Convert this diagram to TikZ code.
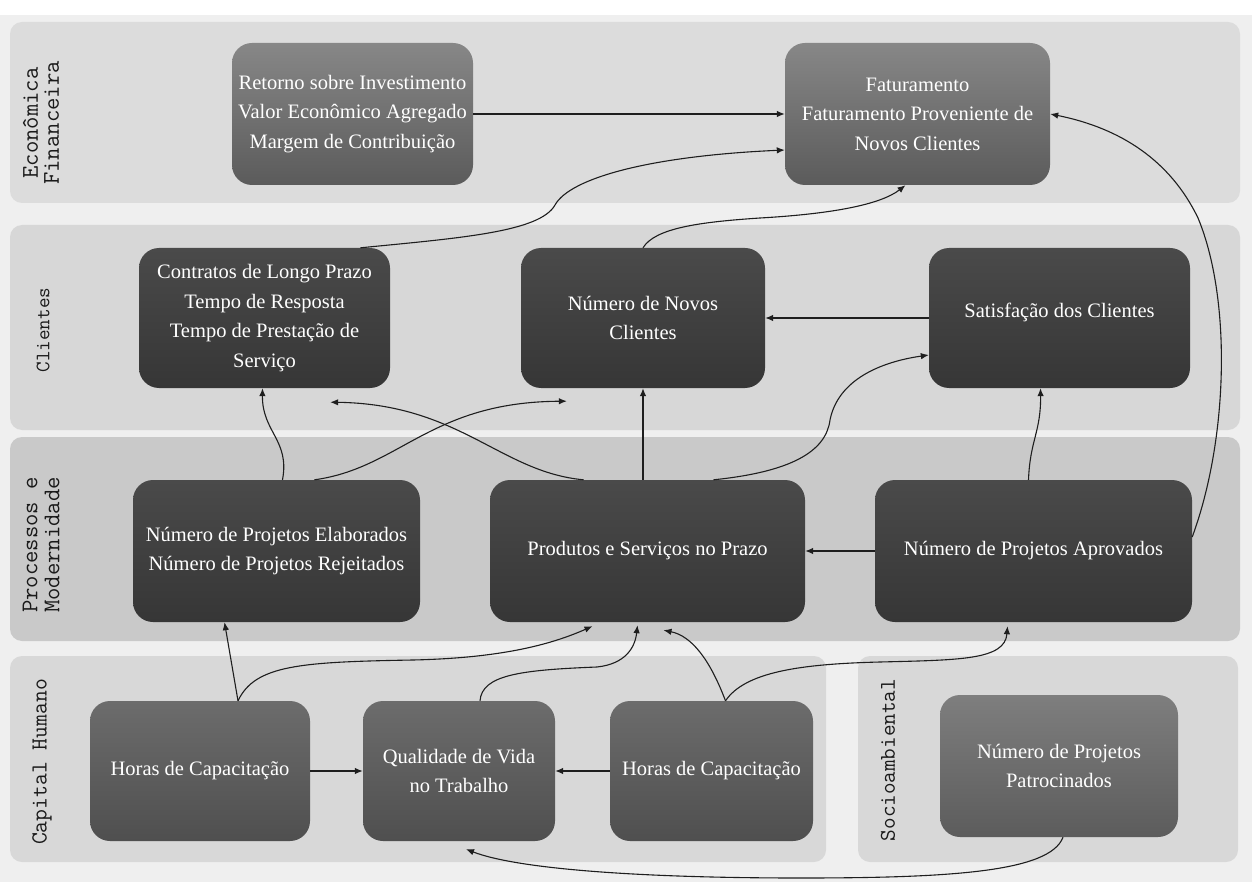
\documentclass[tikz,border=0pt]{standalone}
\usepackage{fontspec}
\setmainfont{Liberation Serif}
\usetikzlibrary{arrows.meta}
\definecolor{pagebg}{HTML}{EFEFEF}
\definecolor{laneA}{HTML}{DCDCDC}
\definecolor{laneB}{HTML}{D7D7D7}
\definecolor{laneC}{HTML}{C9C9C9}
\definecolor{laneD}{HTML}{D8D8D8}
\definecolor{midtop}{HTML}{878787}
\definecolor{midbot}{HTML}{5B5B5B}
\definecolor{darktop}{HTML}{4A4A4A}
\definecolor{darkbot}{HTML}{363636}
\definecolor{humtop}{HTML}{6C6C6C}
\definecolor{humbot}{HTML}{4F4F4F}
\definecolor{pattop}{HTML}{7E7E7E}
\definecolor{patbot}{HTML}{5C5C5C}
\definecolor{linec}{HTML}{1E1E1E}
\definecolor{labc}{HTML}{1A1A1A}
\begin{document}
\begin{tikzpicture}[x=1pt,y=-1pt,
  box/.style={rounded corners=20pt, inner sep=0pt, align=center, text=white,
    font=\fontsize{20.5}{29.5}\selectfont},
  boxmid/.style={box, top color=midtop, bottom color=midbot},
  boxdark/.style={box, top color=darktop, bottom color=darkbot},
  boxhum/.style={box, top color=humtop, bottom color=humbot},
  boxpat/.style={box, top color=pattop, bottom color=patbot},
  lanebox/.style={rounded corners=12pt},
  lanelab/.style={rotate=90, align=center, text=labc, inner sep=0pt,
    font=\ttfamily\fontsize{23}{21}\selectfont},
  arr/.style={draw=linec, line width=1.1pt, -{Latex[length=8pt,width=6.5pt]}}
]
\useasboundingbox (0,0) rectangle (1252,882);
\fill[white] (0,0) rectangle (1252,15);
\fill[pagebg] (0,15) rectangle (1252,882);
% lanes
\fill[laneA, lanebox] (10,22) rectangle (1240,203);
\fill[laneB, lanebox] (10,225) rectangle (1240,430);
\fill[laneC, lanebox] (10,437) rectangle (1240,641);
\fill[laneD, lanebox] (10,656) rectangle (826,862);
\fill[laneD, lanebox] (858,656) rectangle (1238,862);
% lane labels
\node[lanelab, font=\ttfamily\fontsize{24}{21}\selectfont] (lab1) at (41,123) {Econômica\\Financeira};
\node[lanelab, font=\ttfamily\fontsize{20.5}{21}\selectfont] (lab2) at (43,330) {Clientes};
\node[lanelab, font=\ttfamily\fontsize{24}{22}\selectfont] (lab3) at (41,545) {Processos e\\Modernidade};
\node[lanelab] (lab4) at (42,762) {Capital Humano};
\node[lanelab, font=\ttfamily\fontsize{22.5}{21}\selectfont] (lab5) at (888,760) {Socioambiental};
% boxes
\node[boxmid, minimum width=241pt, minimum height=142pt] (ret) at (352.5,114)
  {Retorno sobre Investimento\\Valor Econômico Agregado\\Margem de Contribuição};
\node[boxmid, minimum width=265pt, minimum height=142pt] (fat) at (917.5,114)
  {Faturamento\\Faturamento Proveniente de\\Novos Clientes};
\node[boxdark, minimum width=251pt, minimum height=140pt] (con) at (264.5,318)
  {Contratos de Longo Prazo\\Tempo de Resposta\\Tempo de Prestação de\\Serviço};
\node[boxdark, minimum width=244pt, minimum height=140pt] (nnc) at (643,318)
  {Número de Novos\\Clientes};
\node[boxdark, minimum width=261pt, minimum height=140pt] (sat) at (1059.5,318)
  {\raisebox{0pt}[0pt][0pt]{Satisfação dos Clientes}};
\node[boxdark, minimum width=287pt, minimum height=142pt] (ela) at (276.5,551)
  {Número de Projetos Elaborados\\Número de Projetos Rejeitados};
\node[boxdark, minimum width=315pt, minimum height=142pt] (pro) at (647.5,551)
  {Produtos e Serviços no Prazo};
\node[boxdark, minimum width=317pt, minimum height=142pt] (apr) at (1033.5,551)
  {Número de Projetos Aprovados};
\node[boxhum, minimum width=220pt, minimum height=140pt] (hc1) at (200,771)
  {Horas de Capacitação};
\node[boxhum, minimum width=192pt, minimum height=140pt] (qv) at (459,771)
  {Qualidade de Vida\\no Trabalho};
\node[boxhum, minimum width=203pt, minimum height=140pt] (hc2) at (711.5,771)
  {Horas de Capacitação};
\node[boxpat, minimum width=238pt, minimum height=142pt] (pat) at (1059,766)
  {Número de Projetos\\Patrocinados};
% connectors
\draw[arr] (ret.east) -- (ret.east -| fat.west);
\draw[arr] ([xshift=96pt]con.north) .. controls (460,238) and (540,232) .. (555,205)
  .. controls (570,178) and (650,156) .. ([yshift=-36pt]fat.west);
\draw[arr] (nnc.north) .. controls (655,228) and (700,222) .. (760,218)
  .. controls (830,214) and (880,205) .. ([xshift=-12pt]fat.south);
\draw[arr] (sat.west) -- (sat.west -| nnc.east);
\draw[arr] ([yshift=14pt]apr.east) .. controls (1228,440) and (1232,300) .. (1198,218)
  .. controls (1170,160) and (1120,128) .. (fat.east);
\draw[arr] ([xshift=6pt]ela.north) .. controls (290,440) and (262,432) .. ([xshift=-2pt]con.south);
\draw[arr] ([xshift=38pt]ela.north) .. controls (400,468) and (430,402) .. ([xshift=46pt,yshift=-13pt]nnc.south west);
\draw[arr] ([xshift=-64pt]pro.north) .. controls (500,472) and (460,404) .. ([xshift=-60pt,yshift=-14pt]con.south east);
\draw[arr] (nnc.south |- pro.north) -- (nnc.south);
\draw[arr] ([xshift=66pt]pro.north) .. controls (790,472) and (826,452) .. (830,420)
  .. controls (838,380) and (880,362) .. ([yshift=-37pt]sat.west);
\draw[arr] ([xshift=-5pt]apr.north) .. controls (1030,440) and (1041,432) .. ([xshift=-19pt]sat.south);
\draw[arr] (apr.west) -- (apr.west -| pro.east);
\draw[arr] ([xshift=38pt]hc1.north) -- ([xshift=-52pt]ela.south);
\draw[arr] ([xshift=38pt]hc1.north) .. controls (255,665) and (300,662) .. (413,660)
  .. controls (500,658) and (550,645) .. ([xshift=-55pt,yshift=-4pt]pro.south);
\draw[arr] ([xshift=21pt]qv.north) .. controls (482,675) and (520,670) .. (597,667)
  .. controls (625,664) and (635,648) .. ([xshift=-10pt,yshift=-3pt]pro.south);
\draw[arr] ([xshift=14pt]hc2.north) .. controls (710,660) and (692,636) .. ([xshift=16pt,yshift=-8pt]pro.south);
\draw[arr] ([xshift=14pt]hc2.north) .. controls (745,672) and (800,664) .. (880,662)
  .. controls (960,660) and (1005,660) .. ([xshift=-26pt,yshift=-4pt]apr.south);
\draw[arr] (hc1.east) -- (qv.west);
\draw[arr] (hc2.west) -- (qv.east);
\draw[arr] ([xshift=4pt]pat.south) .. controls (1050,872) and (950,878) .. (800,878)
  .. controls (650,878) and (520,870) .. ([xshift=7pt,yshift=-8pt]qv.south);
\end{tikzpicture}
\end{document}
